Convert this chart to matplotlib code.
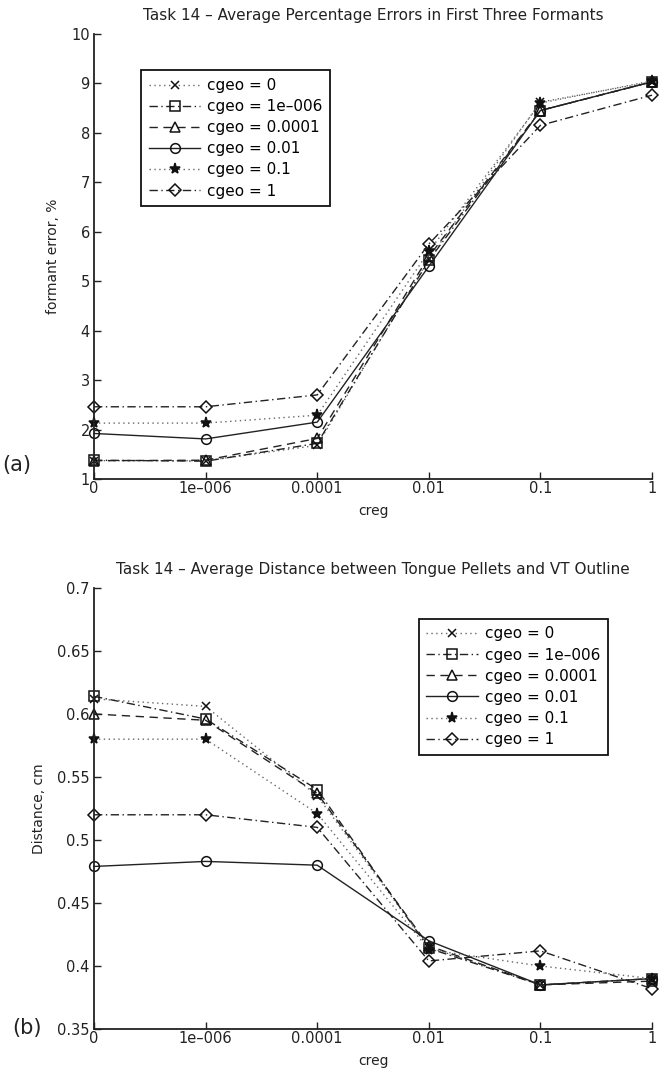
import matplotlib
matplotlib.use("Agg")
import matplotlib.pyplot as plt

plt.rcParams['font.family'] = ['DejaVu Sans']

creg_labels = ['0', '1e\u2013006', '0.0001', '0.01', '0.1', '1']
cgeo_labels = ['cgeo = 0', 'cgeo = 1e\u2013006', 'cgeo = 0.0001',
               'cgeo = 0.01', 'cgeo = 0.1', 'cgeo = 1']

# (a) formant error, %
err_cgeo_0 = [1.37, 1.37, 1.68, 5.45, 8.62, 9.03]
err_cgeo_1e6 = [1.38, 1.36, 1.72, 5.42, 8.45, 9.03]
err_cgeo_1e4 = [1.37, 1.38, 1.82, 5.50, 8.45, 9.03]
err_cgeo_001 = [1.92, 1.81, 2.15, 5.30, 8.45, 9.03]
err_cgeo_01 = [2.13, 2.13, 2.29, 5.60, 8.60, 9.05]
err_cgeo_1 = [2.46, 2.46, 2.70, 5.75, 8.15, 8.76]

# (b) distance, cm
dist_cgeo_0 = [0.612, 0.606, 0.535, 0.415, 0.385, 0.390]
dist_cgeo_1e6 = [0.614, 0.596, 0.540, 0.414, 0.385, 0.390]
dist_cgeo_1e4 = [0.600, 0.595, 0.537, 0.416, 0.385, 0.388]
dist_cgeo_001 = [0.479, 0.483, 0.480, 0.420, 0.385, 0.390]
dist_cgeo_01 = [0.580, 0.580, 0.521, 0.413, 0.400, 0.390]
dist_cgeo_1 = [0.520, 0.520, 0.510, 0.404, 0.412, 0.382]

styles = [
    dict(ls=(0, (1, 2.5)), marker='x', color='#666666'),
    dict(ls=(0, (6, 2.5, 1, 2.5)), marker='s', color='#222222'),
    dict(ls=(0, (6, 4)), marker='^', color='#222222'),
    dict(ls='-', marker='o', color='#222222'),
    dict(ls=(0, (1, 2.5)), marker='*', color='#666666'),
    dict(ls=(0, (6, 2.5, 1, 2.5)), marker='D', color='#222222'),
]

fig = plt.figure(figsize=(6.65, 10.81), dpi=100)
ax1 = fig.add_axes([0.1414, 0.5569, 0.8391, 0.4118])
ax2 = fig.add_axes([0.1414, 0.0481, 0.8391, 0.4080])

x = list(range(len(creg_labels)))


def draw(ax, series):
    for ys, st, lab in zip(series, styles, cgeo_labels):
        mk = st['marker']
        ms = {'D': 6, '*': 8, 'x': 6, 's': 6.5, '^': 7, 'o': 7}[mk]
        filled = mk in ('x', '*')
        ax.plot(x, ys, linestyle=st['ls'], marker=mk, color=st['color'],
                markerfacecolor='#111111' if filled else 'none',
                markeredgecolor='#111111', markersize=ms, lw=1.0,
                markeredgewidth=1.1, label=lab, clip_on=False)
    ax.set_xticks(x)
    ax.set_xticklabels(creg_labels)
    ax.set_xlim(0, 5)
    for s in ('top', 'right'):
        ax.spines[s].set_visible(False)
    for s in ('left', 'bottom'):
        ax.spines[s].set_linewidth(1.3)
        ax.spines[s].set_color('#222222')
    ax.tick_params(direction='in', length=5, width=1.0, labelsize=10.5,
                   colors='#222222', pad=3)
    ax.tick_params(axis='x', pad=1.5)


def legend(ax, anchor):
    leg = ax.legend(loc='upper left', bbox_to_anchor=anchor, borderaxespad=0,
                    fontsize=11, frameon=True, fancybox=False,
                    edgecolor='#111111', framealpha=1,
                    handlelength=3.4, handletextpad=0.45,
                    labelspacing=0.4, borderpad=0.5)
    leg.get_frame().set_linewidth(1.3)
    return leg


draw(ax1, [err_cgeo_0, err_cgeo_1e6, err_cgeo_1e4, err_cgeo_001, err_cgeo_01, err_cgeo_1])
ax1.set_ylim(1, 10)
ax1.set_yticks(range(1, 11))
ax1.set_title('Task 14 \u2013 Average Percentage Errors in First Three Formants',
              fontsize=11, pad=10, color='#222222')
ax1.set_ylabel('formant error, %', fontsize=10, color='#222222', labelpad=8)
ax1.set_xlabel('creg', fontsize=10, color='#222222', labelpad=6)
legend(ax1, (0.084, 0.918))

draw(ax2, [dist_cgeo_0, dist_cgeo_1e6, dist_cgeo_1e4, dist_cgeo_001, dist_cgeo_01, dist_cgeo_1])
ax2.set_ylim(0.35, 0.7)
ax2.set_yticks([0.35, 0.4, 0.45, 0.5, 0.55, 0.6, 0.65, 0.7])
ax2.set_yticklabels(['0.35', '0.4', '0.45', '0.5', '0.55', '0.6', '0.65', '0.7'])
ax2.set_title('Task 14 \u2013 Average Distance between Tongue Pellets and VT Outline',
              fontsize=11, pad=10, color='#222222')
ax2.set_ylabel('Distance, cm', fontsize=10, color='#222222', labelpad=8)
ax2.set_xlabel('creg', fontsize=10, color='#222222', labelpad=6)
legend(ax2, (0.582, 0.930))

fig.text(0.004, 0.570, '(a)', fontsize=15, va='center', color='#222222')
fig.text(0.018, 0.049, '(b)', fontsize=15, va='center', color='#222222')

fig.savefig('out.png', dpi=100)
